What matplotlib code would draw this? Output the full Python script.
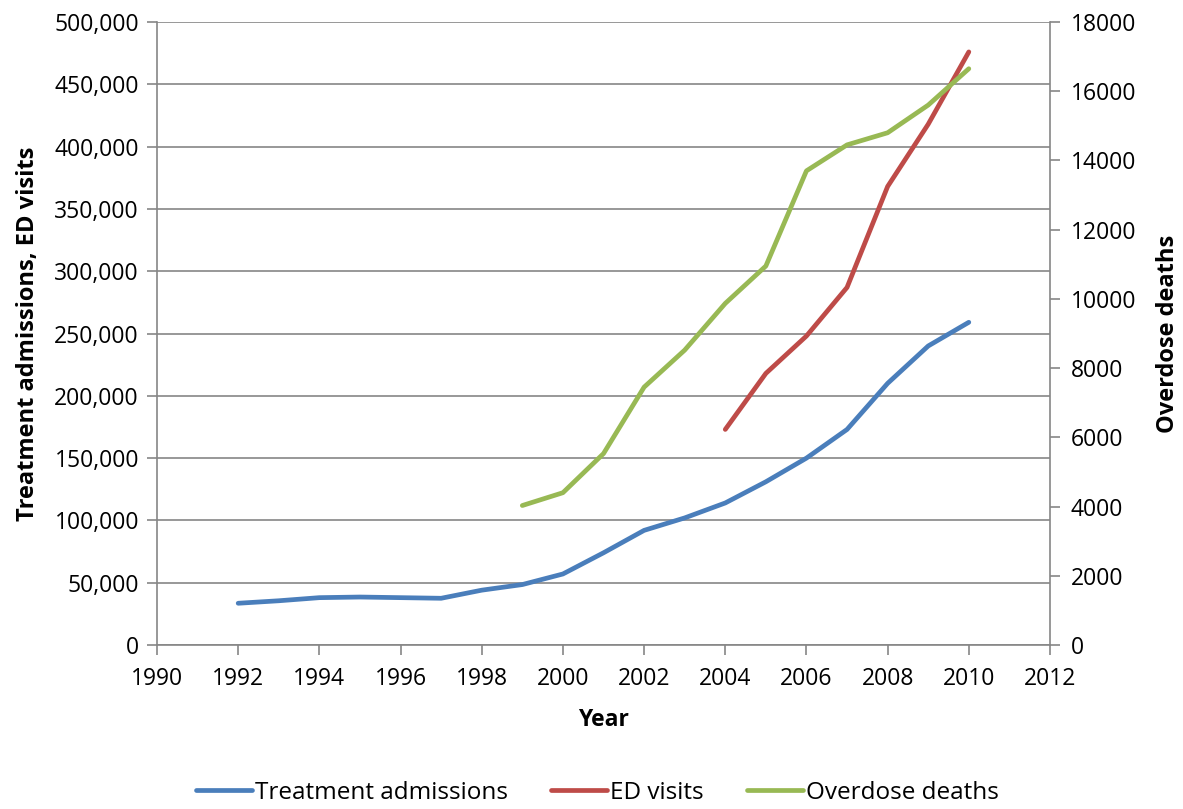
import matplotlib.pyplot as plt
from matplotlib.ticker import FuncFormatter

plt.rcParams['font.family'] = ['Open Sans', 'DejaVu Sans']

# data
years_tx = list(range(1992, 2011))
treatment = [33500, 35500, 38000, 38500, 38000, 37500, 44000, 48500, 57000,
             74000, 92000, 102000, 114000, 131000, 150000, 173000, 210000,
             240000, 259000]

years_ed = list(range(2004, 2011))
ed_visits = [173000, 218000, 248000, 287000, 368000, 418000, 476000]

years_od = list(range(1999, 2011))
overdose = [4030, 4400, 5530, 7450, 8520, 9870, 10950, 13700, 14450, 14800,
            15600, 16650]

grey = '#868686'
fs = 16.5

fig = plt.figure(figsize=(11.83, 8.09), dpi=100)
ax = fig.add_axes([157 / 1183, 1 - 645 / 809, (1050 - 157) / 1183, (645 - 22) / 809])
ax2 = ax.twinx()

l1, = ax.plot(years_tx, treatment, color='#4A7EBB', lw=3.4, solid_capstyle='round',
              label='Treatment admissions')
l2, = ax.plot(years_ed, ed_visits, color='#BE4B48', lw=3.4, solid_capstyle='round',
              label='ED visits')
l3, = ax2.plot(years_od, overdose, color='#98B954', lw=3.4, solid_capstyle='round',
               label='Overdose deaths')

ax.set_xlim(1990, 2012)
ax.set_xticks(range(1990, 2013, 2))
ax.set_ylim(0, 500000)
ax.set_yticks(range(0, 500001, 50000))
ax.yaxis.set_major_formatter(FuncFormatter(lambda v, p: f'{int(v):,}'))
ax2.set_ylim(0, 18000)
ax2.set_yticks(range(0, 18001, 2000))

ax.grid(axis='y', color=grey, lw=1.2)
ax.set_axisbelow(True)
for a in (ax, ax2):
    for s in a.spines.values():
        s.set_visible(False)
ax.spines['left'].set_visible(True)
ax.spines['bottom'].set_visible(True)
ax2.spines['right'].set_visible(True)
for s in (ax.spines['left'], ax.spines['bottom'], ax2.spines['right']):
    s.set_color(grey)
    s.set_linewidth(1.2)

ax.tick_params(axis='both', colors=grey, labelcolor='black', labelsize=fs,
               length=7, width=1.2, direction='out')
ax.tick_params(axis='x', pad=9)
ax.tick_params(axis='y', pad=6)
ax2.tick_params(axis='y', colors=grey, labelcolor='black', labelsize=fs,
                length=7, width=1.2, direction='out', pad=8)

ax.set_xlabel('Year', fontsize=fs, fontweight='bold', labelpad=12)
ax.set_ylabel('Treatment admissions, ED visits', fontsize=17, fontweight='bold',
              labelpad=10)
ax2.set_ylabel('Overdose deaths', fontsize=17, fontweight='bold', labelpad=14)

fig.legend(handles=[l1, l2, l3], loc='lower center', bbox_to_anchor=(0.505, -0.022),
           ncol=3, frameon=False, fontsize=17.5, handlelength=2.3,
           handletextpad=0.1, columnspacing=1.8)

fig.savefig('out.png', dpi=100)
